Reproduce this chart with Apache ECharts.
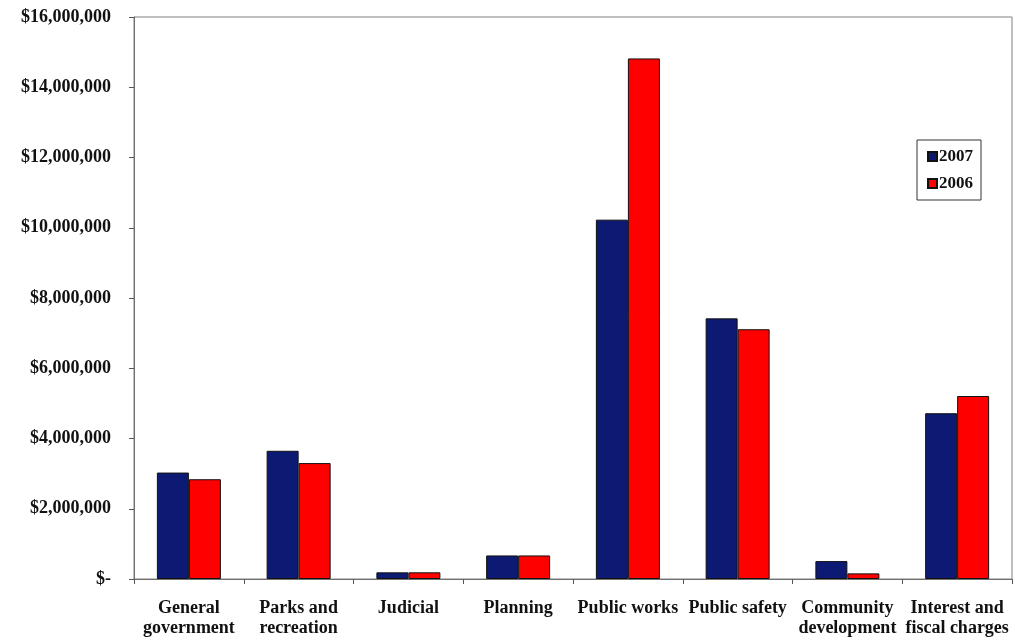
<!DOCTYPE html>
<html>
<head>
<meta charset="utf-8">
<script src="https://cdn.jsdelivr.net/npm/echarts@6/dist/echarts.min.js"></script>
<style>
html,body{margin:0;padding:0;background:#fff;}
#chart{width:1015px;height:641px;}
</style>
</head>
<body>
<div id="chart"></div>
<script>
var categories=['General\ngovernment','Parks and\nrecreation','Judicial','Planning','Public works','Public safety','Community\ndevelopment','Interest and\nfiscal charges'];
var years=['2007','2006'];
var values2007=[3030000,3650000,190000,670000,10230000,7420000,510000,4720000];
var values2006=[2840000,3300000,190000,670000,14820000,7110000,160000,5210000];
var yTicks=[0,2000000,4000000,6000000,8000000,10000000,12000000,14000000,16000000];

function moneyLabel(v){
    if(v==0){
        return '$-';
    }
    return '$'+String(v).replace(/\B(?=(\d{3})+(?!\d))/g,',');
}

var myChart=echarts.init(document.getElementById('chart'));
var fontFam="'Liberation Serif', 'DejaVu Serif', serif";
var option={
    backgroundColor:'#fff',
    animation:false,
    grid:{
        left:134,
        right:3,
        top:17,
        bottom:62,
        show:true,
        borderColor:'#808080',
        borderWidth:1
    },
    legend:{
        data:years,
        orient:'vertical',
        left:917,
        top:140,
        icon:'rect',
        itemWidth:9,
        itemHeight:9,
        itemGap:10,
        padding:[8,8,8,10],
        borderColor:'#333',
        borderWidth:1,
        backgroundColor:'#fff',
        textStyle:{
            fontFamily:fontFam,
            fontWeight:'bold',
            fontSize:17,
            width:42,
            color:'#111',
            padding:[0,0,0,-3]
        }
    },
    xAxis:{
        type:'category',
        data:categories,
        axisLine:{lineStyle:{color:'#707070',width:1}},
        axisTick:{show:true,length:5,inside:false,lineStyle:{color:'#555'}},
        axisLabel:{
            interval:0,
            margin:19,
            fontFamily:fontFam,
            fontWeight:'bold',
            fontSize:18,
            lineHeight:20,
            color:'#111'
        }
    },
    yAxis:{
        type:'value',
        min:yTicks[0],
        max:yTicks[yTicks.length-1],
        interval:2000000,
        splitLine:{show:false},
        axisLine:{show:true,lineStyle:{color:'#707070'}},
        axisTick:{show:true,length:5,lineStyle:{color:'#555'}},
        axisLabel:{
            margin:23,
            formatter:moneyLabel,
            fontFamily:fontFam,
            fontWeight:'bold',
            fontSize:18,
            color:'#111'
        }
    },
    series:[
        {
            name:years[0],
            type:'bar',
            data:values2007,
            barWidth:32,
            barGap:'0%',
            itemStyle:{color:'#0d1a73',borderColor:'#111',borderWidth:1}
        },
        {
            name:years[1],
            type:'bar',
            data:values2006,
            barWidth:32,
            barGap:'0%',
            itemStyle:{color:'#ff0000',borderColor:'#111',borderWidth:1}
        }
    ]
};
myChart.setOption(option);
</script>
</body>
</html>
